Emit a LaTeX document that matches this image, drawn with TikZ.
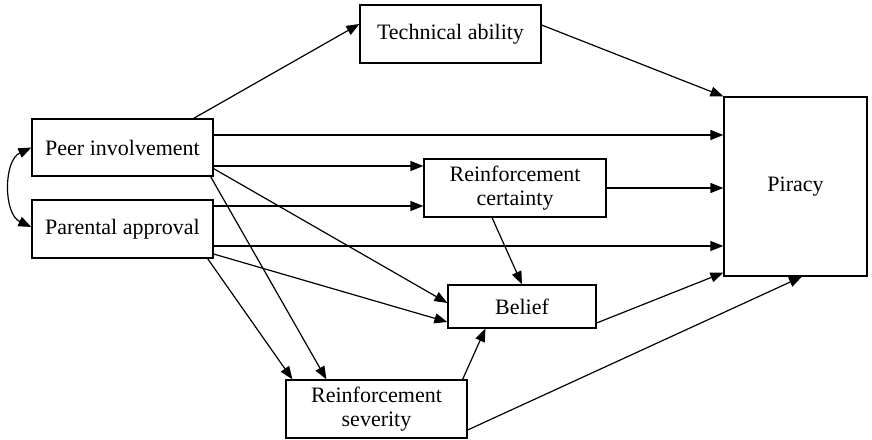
\documentclass[tikz,border=0pt]{standalone}
\usepackage{fontspec}
\setmainfont{Liberation Serif}
\usetikzlibrary{arrows.meta}
\begin{document}
\begin{tikzpicture}[x=1pt,y=-1pt,
  box/.style={draw,line width=1.2pt,rectangle,inner sep=0pt,align=center,
    font=\fontsize{22}{24}\selectfont},
  conn/.style={line width=1.2pt,-{Triangle[length=13pt,width=10pt]}},
  dconn/.style={line width=1.2pt,{Triangle[length=13pt,width=10pt]}-{Triangle[length=13pt,width=10pt]}}]
\useasboundingbox (0,0) rectangle (872,439);
\node[box,minimum width=181pt,minimum height=58pt] (tech) at (450.5,34) {Technical ability};
\node[box,minimum width=181pt,minimum height=57pt] (peer) at (122.5,147.5) {Peer involvement};
\node[box,minimum width=181pt,minimum height=58pt] (parent) at (122.5,229) {Parental approval};
\node[box,minimum width=182pt,minimum height=58pt] (rc) at (515,188) {Reinforcement\\certainty};
\node[box,minimum width=148pt,minimum height=43pt] (belief) at (522,306.5) {Belief};
\node[box,minimum width=181pt,minimum height=58pt] (sev) at (376.5,409) {Reinforcement\\severity};
\node[box,minimum width=143pt,minimum height=179pt] (piracy) at (795.5,186.5) {Piracy};

\draw[conn] ([xshift=-20pt]peer.north east) -- ([yshift=10pt]tech.west);
\draw[conn] ([yshift=9pt]tech.east) -- (piracy.north west);
\draw[conn] ([yshift=12.5pt]peer.east) -- ([yshift=51.5pt]piracy.west);
\draw[conn] ([yshift=-18.5pt]peer.east) -- ([yshift=22pt]rc.west);
\draw[conn] ([yshift=23pt]parent.east) -- ([yshift=-18pt]rc.west);
\draw[conn] (rc.east) -- (rc.east -| piracy.west);
\draw[conn] ([yshift=-17pt]parent.east) -- ([yshift=-59.5pt]piracy.west);
\draw[conn] ([xshift=-23pt]rc.south) -- (belief.north);
\draw[conn] ([yshift=8pt]peer.south east) -- ([yshift=3.5pt]belief.west);
\draw[conn] ([yshift=-25pt]parent.east) -- ([yshift=-15.5pt]belief.west);
\draw[conn] ([xshift=-3pt]peer.south east) -- ([xshift=41pt]sev.north west);
\draw[conn] ([xshift=-6pt]parent.south east) -- ([xshift=7pt]sev.north west);
\draw[conn] ([xshift=-5pt]sev.north east) -- ([xshift=38pt]belief.south west);
\draw[conn] ([yshift=-21pt]sev.east) -- ([xshift=6.5pt]piracy.south);
\draw[conn] ([yshift=-16.5pt]belief.east) -- ([yshift=4pt]piracy.south west);
\draw[dconn] (peer.west) to[bend right=65] ([yshift=2pt]parent.west);
\end{tikzpicture}
\end{document}
